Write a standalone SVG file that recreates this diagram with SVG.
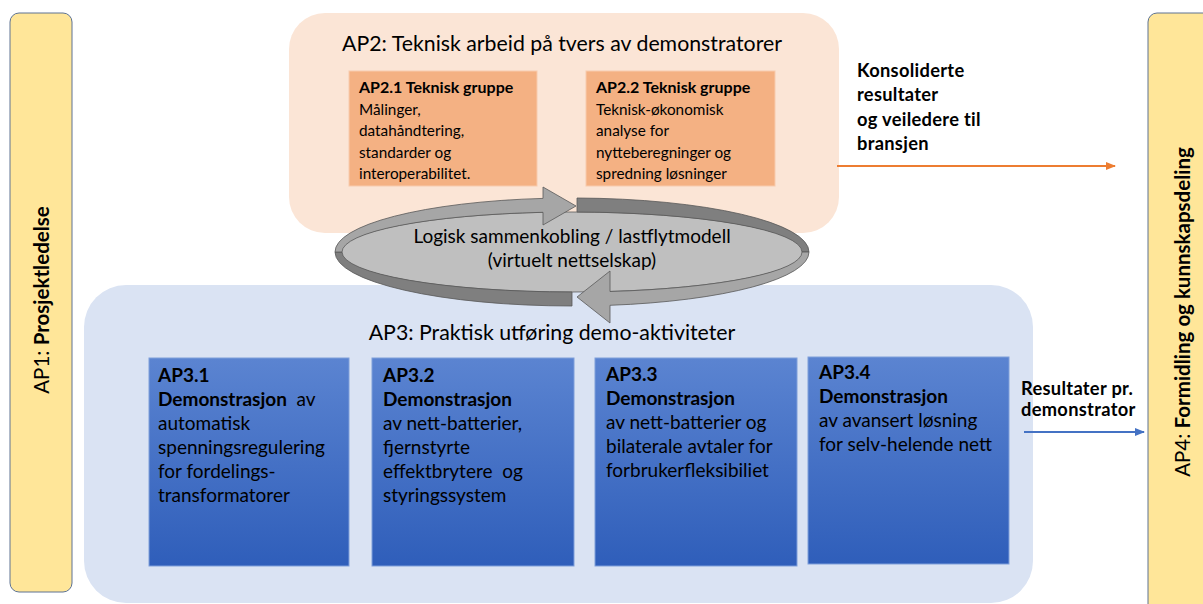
<svg xmlns="http://www.w3.org/2000/svg" width="1203" height="604" viewBox="0 0 1203 604">
<defs>
<linearGradient id="blueGrad" x1="0" y1="0" x2="0" y2="1">
<stop offset="0" stop-color="#5B84D1"/>
<stop offset="1" stop-color="#2F5EBA"/>
</linearGradient>
<marker id="arrOrange" markerWidth="10" markerHeight="8" refX="9" refY="4" orient="auto" markerUnits="userSpaceOnUse">
<path d="M0,0 L10,4 L0,8 Z" fill="#ED7D31"/>
</marker>
<marker id="arrBlue" markerWidth="10" markerHeight="8" refX="9" refY="4" orient="auto" markerUnits="userSpaceOnUse">
<path d="M0,0 L10,4 L0,8 Z" fill="#4472C4"/>
</marker>
<style>
text{font-family:Lato,"Open Sans","Liberation Sans",sans-serif;fill:#000}
.side{fill:#FFE699;stroke:#5E7393;stroke-width:1}
.sidet{font-size:20.5px}
.title{font-size:21.3px}
.ap2s{fill:#F4B183;stroke:#F8CBAD;stroke-width:1}
.ap2t{font-size:15.3px}
.ap2b{font-size:16px;font-weight:bold}
.ap3s{fill:url(#blueGrad);stroke:#7F9FDA;stroke-width:1}
.ap3t{font-size:19px;white-space:pre}
.b{font-weight:bold}
.lbl{font-size:18.3px;font-weight:bold;letter-spacing:0.3px}
.cyc{font-size:19px}
.light{fill:#A6A6A6;stroke:#595959;stroke-width:0.8}
.dark{fill:#7F7F7F;stroke:#595959;stroke-width:0.8}
</style>
</defs>

<g id="ap1">
<rect class="side" x="10" y="13" width="62" height="579" rx="9"/>
<text class="sidet" transform="translate(49,300) rotate(-90)" text-anchor="middle">AP1: <tspan class="b">Prosjektledelse</tspan></text>
</g>

<g id="ap4">
<rect class="side" x="1148" y="13" width="70" height="600" rx="9"/>
<text class="sidet" transform="translate(1190,312) rotate(-90)" text-anchor="middle">AP4: <tspan class="b">Formidling og kunnskapsdeling</tspan></text>
</g>

<g id="ap2">
<rect x="289" y="13" width="550" height="220" rx="36" fill="#FBE5D6"/>
<text class="title" x="562" y="51" text-anchor="middle">AP2: Teknisk arbeid på tvers av demonstratorer</text>
</g>

<g id="ap2-1">
<rect class="ap2s" x="349" y="71" width="188" height="115"/>
<text class="ap2t" x="359" y="93"><tspan class="ap2b">AP2.1 Teknisk gruppe</tspan><tspan x="359" dy="21.5">Målinger,</tspan><tspan x="359" dy="21.5">datahåndtering,</tspan><tspan x="359" dy="21.5">standarder og</tspan><tspan x="359" dy="21.5">interoperabilitet.</tspan></text>
</g>

<g id="ap2-2">
<rect class="ap2s" x="586" y="71" width="189" height="115"/>
<text class="ap2t" x="596" y="93"><tspan class="ap2b">AP2.2 Teknisk gruppe</tspan><tspan x="596" dy="21.5">Teknisk-økonomisk</tspan><tspan x="596" dy="21.5">analyse for</tspan><tspan x="596" dy="21.5">nytteberegninger og</tspan><tspan x="596" dy="21.5">spredning løsninger</tspan></text>
</g>

<g id="ap3">
<rect x="84" y="285" width="949" height="318" rx="42" fill="#DAE3F3"/>
<text class="title" x="552" y="340" text-anchor="middle">AP3: Praktisk utføring demo-aktiviteter</text>
</g>

<g id="ap3-1">
<rect class="ap3s" x="149" y="358" width="200" height="208"/>
<text class="ap3t" x="158" y="382"><tspan class="b">AP3.1</tspan><tspan x="158" dy="24"><tspan class="b">Demonstrasjon</tspan>  av</tspan><tspan x="158" dy="24">automatisk</tspan><tspan x="158" dy="24">spenningsregulering</tspan><tspan x="158" dy="24">for fordelings-</tspan><tspan x="158" dy="24">transformatorer</tspan></text>
</g>

<g id="ap3-2">
<rect class="ap3s" x="372" y="358" width="202" height="208"/>
<text class="ap3t" x="383" y="382"><tspan class="b">AP3.2</tspan><tspan x="383" dy="24" class="b">Demonstrasjon</tspan><tspan x="383" dy="24">av nett-batterier,</tspan><tspan x="383" dy="24">fjernstyrte</tspan><tspan x="383" dy="24">effektbrytere  og</tspan><tspan x="383" dy="24">styringssystem</tspan></text>
</g>

<g id="ap3-3">
<rect class="ap3s" x="595" y="358" width="202" height="208"/>
<text class="ap3t" x="606" y="381"><tspan class="b">AP3.3</tspan><tspan x="606" dy="24" class="b">Demonstrasjon</tspan><tspan x="606" dy="24">av nett-batterier og</tspan><tspan x="606" dy="24">bilaterale avtaler for</tspan><tspan x="606" dy="24">forbrukerfleksibiliet</tspan></text>
</g>

<g id="ap3-4">
<rect class="ap3s" x="808" y="357" width="201" height="207"/>
<text class="ap3t" x="819" y="379"><tspan class="b">AP3.4</tspan><tspan x="819" dy="24" class="b">Demonstrasjon</tspan><tspan x="819" dy="24">av avansert løsning</tspan><tspan x="819" dy="24">for selv-helende nett</tspan></text>
</g>

<g id="cycle">
<ellipse cx="572" cy="252" rx="232" ry="40" fill="#BFBFBF" stroke="#595959" stroke-width="0.8"/>
<path class="dark" d="M572,306 A237,54 0 0 1 335,252 L342,252 A230,40 0 0 0 572,292 Z"/>
<path class="dark" d="M577,198 A237,54 0 0 1 809,252 L802,252 A230,40 0 0 0 577,212 Z"/>
<path class="light" d="M543,198.4 L543,187 L576,206 L543,225 L543,212.3 A230,40 0 0 0 342,252 L335,252 A237,54 0 0 1 543,198.4 Z"/>
<path class="light" d="M809,252 A237,54 0 0 1 610,305.3 L610,323 L577,297 L610,271 L610,291.5 A230,40 0 0 0 802,252 Z"/>
<text class="cyc" x="572" y="243" text-anchor="middle">Logisk sammenkobling / lastflytmodell</text>
<text class="cyc" x="572" y="267" text-anchor="middle">(virtuelt nettselskap)</text>
</g>

<g id="connectors">
<line x1="837" y1="166" x2="1115" y2="166" stroke="#ED7D31" stroke-width="2" marker-end="url(#arrOrange)"/>
<line x1="1024" y1="432" x2="1144" y2="432" stroke="#4472C4" stroke-width="2" marker-end="url(#arrBlue)"/>
</g>

<g id="labels">
<text class="lbl" x="857" y="77">Konsoliderte<tspan x="857" dy="24.3">resultater</tspan><tspan x="857" dy="24.3">og veiledere til</tspan><tspan x="857" dy="24.3">bransjen</tspan></text>
<text class="lbl" x="1021" y="395">Resultater pr.<tspan x="1021" dy="21">demonstrator</tspan></text>
</g>
</svg>
